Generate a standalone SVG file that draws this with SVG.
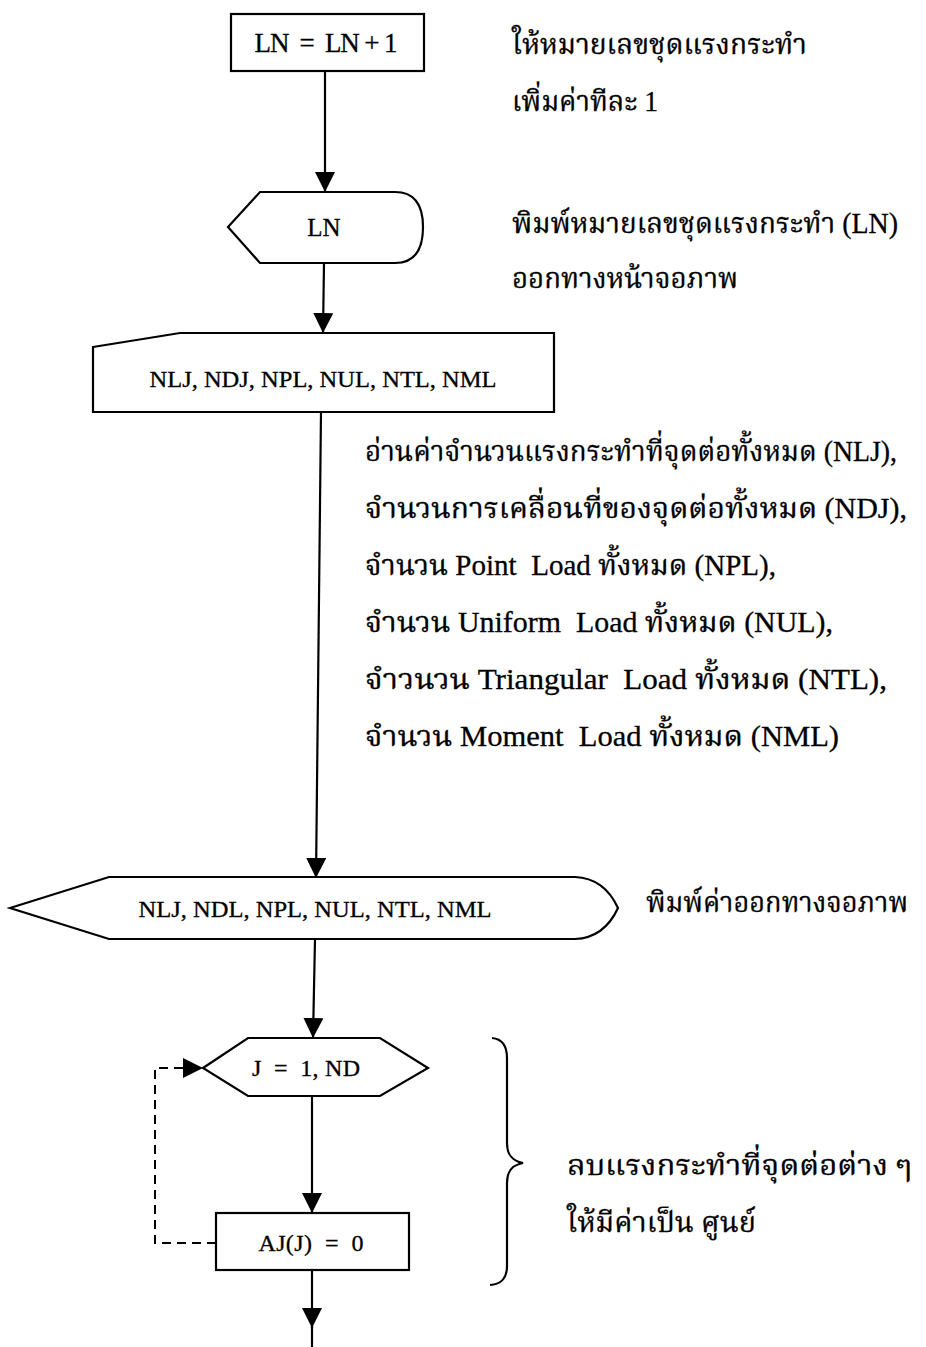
<svg xmlns="http://www.w3.org/2000/svg" width="926" height="1347" viewBox="0 0 926 1347">
  <style>
    .shape { fill: #fff; stroke: #000; stroke-width: 2.2; stroke-linejoin: miter; }
    .lbl { font-family: "Liberation Serif", "Times New Roman", serif; fill: #000; stroke: #000; stroke-width: 0.3; text-anchor: middle; white-space: pre; }
    .note { font-family: "Liberation Serif", "Noto Serif Thai", "Noto Sans Thai", "Noto Sans", serif; font-size: 29px; fill: #000; stroke: #000; stroke-width: 0.3; white-space: pre; }
    .flow { fill: none; stroke: #000; stroke-width: 2.2; }
    .dash { fill: none; stroke: #000; stroke-width: 2; stroke-dasharray: 9 6; }
  </style>
  <defs>
    <marker id="head" markerUnits="userSpaceOnUse" markerWidth="21" markerHeight="21" refX="20" refY="10" orient="auto" viewBox="0 0 21 21">
      <path d="M0,0 L20,10 L0,20 Z" fill="#000"/>
    </marker>
  </defs>

  <rect width="926" height="1347" fill="#fff"/>

  <!-- connectors -->
  <g id="connectors">
    <line class="flow" x1="325" y1="71" x2="325" y2="192" marker-end="url(#head)"/>
    <line class="flow" x1="324" y1="263" x2="323" y2="333" marker-end="url(#head)"/>
    <line class="flow" x1="321" y1="412" x2="316" y2="878" marker-end="url(#head)"/>
    <line class="flow" x1="315" y1="939" x2="313" y2="1038" marker-end="url(#head)"/>
    <line class="flow" x1="312" y1="1096" x2="312" y2="1213" marker-end="url(#head)"/>
    <line class="flow" x1="312" y1="1270" x2="312" y2="1328" marker-end="url(#head)"/>
    <line class="flow" x1="312" y1="1326" x2="312" y2="1347"/>
    <path class="dash" d="M216,1243 H155 V1068 H203" marker-end="url(#head)"/>
  </g>

  <!-- process: increment load set number -->
  <g id="node-inc">
    <rect class="shape" x="231" y="14" width="193" height="57"/>
    <text class="lbl" x="326" y="52" font-size="27" textLength="143" lengthAdjust="spacing">LN  =  LN + 1</text>
  </g>
  <g id="note-inc">
    <text class="note" x="512" y="54" textLength="295" lengthAdjust="spacingAndGlyphs">ให้หมายเลขชุดแรงกระทำ</text>
    <text class="note" x="512" y="111" textLength="146" lengthAdjust="spacingAndGlyphs">เพิ่มค่าทีละ 1</text>
  </g>

  <!-- display: LN -->
  <g id="node-show-ln">
    <path class="shape" d="M228,227 L260,192 H395 C418,192 423,210 423,227 C423,245 418,263 395,263 H260 Z"/>
    <text class="lbl" x="324" y="236" font-size="25">LN</text>
  </g>
  <g id="note-show-ln">
    <text class="note" x="512" y="233" textLength="386" lengthAdjust="spacingAndGlyphs">พิมพ์หมายเลขชุดแรงกระทำ (LN)</text>
    <text class="note" x="512" y="288" textLength="226" lengthAdjust="spacingAndGlyphs">ออกทางหน้าจอภาพ</text>
  </g>

  <!-- manual input: load counts -->
  <g id="node-read">
    <path class="shape" d="M93,347 L180,333 H554 V412 H93 Z"/>
    <text class="lbl" x="323" y="387" font-size="24" textLength="347" lengthAdjust="spacingAndGlyphs">NLJ, NDJ, NPL, NUL, NTL, NML</text>
  </g>
  <g id="note-read">
    <text class="note" x="365" y="461" textLength="532" lengthAdjust="spacingAndGlyphs">อ่านค่าจำนวนแรงกระทำที่จุดต่อทั้งหมด (NLJ),</text>
    <text class="note" x="365" y="518" textLength="542" lengthAdjust="spacingAndGlyphs">จำนวนการเคลื่อนที่ของจุดต่อทั้งหมด (NDJ),</text>
    <text class="note" x="365" y="575" textLength="411" lengthAdjust="spacingAndGlyphs">จำนวน Point  Load ทั้งหมด (NPL),</text>
    <text class="note" x="365" y="632" textLength="468" lengthAdjust="spacingAndGlyphs">จำนวน Uniform  Load ทั้งหมด (NUL),</text>
    <text class="note" x="365" y="689" textLength="522" lengthAdjust="spacingAndGlyphs">จำวนวน Triangular  Load ทั้งหมด (NTL),</text>
    <text class="note" x="365" y="746" textLength="474" lengthAdjust="spacingAndGlyphs">จำนวน Moment  Load ทั้งหมด (NML)</text>
  </g>

  <!-- display: load counts -->
  <g id="node-show-counts">
    <path class="shape" d="M10,908 L109,877 H575 C600,878 612,895 618,908 C612,921 600,938 575,939 H109 Z"/>
    <text class="lbl" x="315" y="917" font-size="24" textLength="353" lengthAdjust="spacingAndGlyphs">NLJ, NDL, NPL, NUL, NTL, NML</text>
  </g>
  <g id="note-show-counts">
    <text class="note" x="646" y="912" font-size="27" textLength="262" lengthAdjust="spacingAndGlyphs">พิมพ์ค่าออกทางจอภาพ</text>
  </g>

  <!-- loop header -->
  <g id="node-loop">
    <path class="shape" d="M203,1068 L248,1038 H380 L428,1068 L380,1096 H248 Z"/>
    <text class="lbl" x="306" y="1076" font-size="24" textLength="108" lengthAdjust="spacing">J  =  1, ND</text>
  </g>

  <!-- loop body -->
  <g id="node-clear">
    <rect class="shape" x="216" y="1213" width="193" height="57"/>
    <text class="lbl" x="311" y="1251" font-size="24" textLength="105" lengthAdjust="spacing">AJ(J)  =  0</text>
  </g>

  <!-- brace and loop note -->
  <g id="note-loop">
    <path fill="none" stroke="#000" stroke-width="2.2" d="M492,1038 C503,1039 507,1046 507,1058 V1143 C507,1155 512,1161 523,1163 C512,1165 507,1171 507,1183 V1266 C507,1278 502,1284 490,1285"/>
    <text class="note" x="567" y="1175" textLength="345" lengthAdjust="spacingAndGlyphs">ลบแรงกระทำที่จุดต่อต่าง ๆ</text>
    <text class="note" x="567" y="1232" textLength="189" lengthAdjust="spacingAndGlyphs">ให้มีค่าเป็น ศูนย์</text>
  </g>
</svg>
